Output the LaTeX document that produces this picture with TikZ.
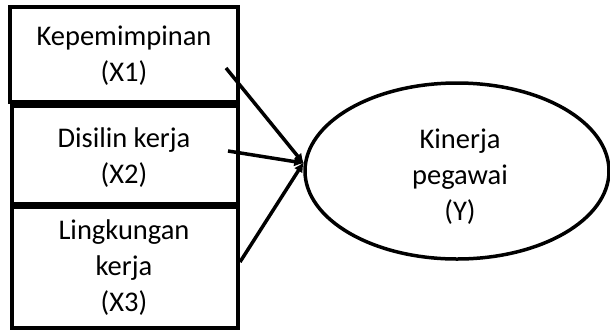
\documentclass[tikz,border=0pt]{standalone}
\usepackage{fontspec}
\setmainfont{Carlito}
\usetikzlibrary{arrows.meta,shapes.geometric}
\tikzset{
  varbox/.style={draw, line width=4.5pt, align=center},
  txt/.style={align=center, font=\fontsize{28.5}{36}\selectfont},
  arr/.style={line width=3.5pt, -{Latex[length=10pt,width=10pt]}, shorten >=-1pt},
}
\begin{document}
\begin{tikzpicture}[x=1pt,y=-1pt]
\useasboundingbox (0,0) rectangle (610,333);
\draw[varbox] (10,7) rectangle (238,102);
\draw[varbox] (12,106) rectangle (238,204);
\draw[varbox] (12,207) rectangle (238,328);
\node[txt] (x1) at (124,56) {Kepemimpinan\\(X1)};
\node[txt] (x2) at (124,158) {Disilin kerja\\(X2)};
\node[txt] (x3) at (124,268) {Lingkungan\\kerja\\(X3)};
\node[draw, ellipse, line width=3.5pt, minimum width=304pt, minimum height=176pt, inner sep=0pt] (Y) at (457,171) {};
\node[txt] (yt) at (460,177) {Kinerja\\pegawai\\(Y)};
\coordinate (s1) at (226,68);
\coordinate (s2) at (228,151);
\coordinate (s3) at (240,262);
\coordinate (t) at ([yshift=8pt]Y.west);
\draw[arr] (s1) -- (t);
\draw[arr] (s2) -- (t);
\draw[arr] (s3) -- (t);
\end{tikzpicture}
\end{document}
